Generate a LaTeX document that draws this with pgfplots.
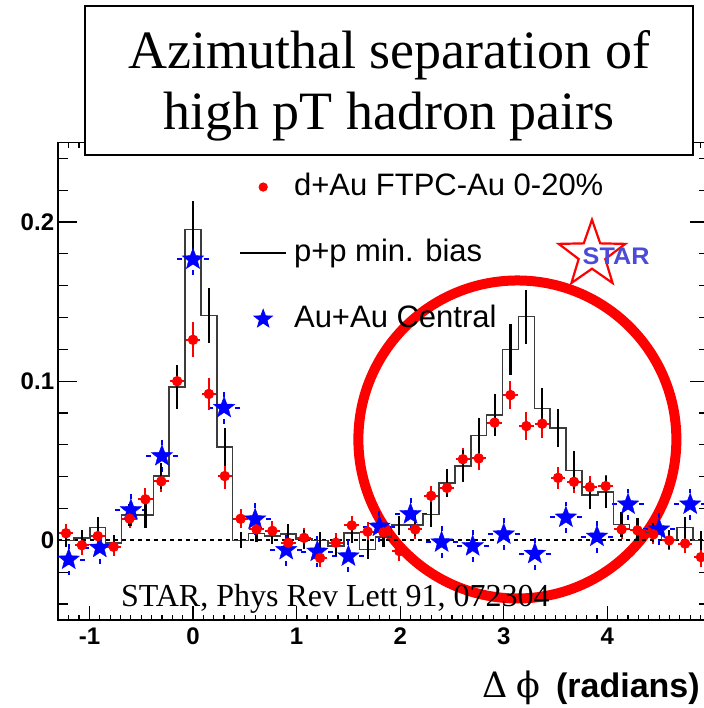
\documentclass[border=0pt]{standalone}
\usepackage{fontspec}
\setmainfont{Liberation Serif}
\newfontfamily\helv{Liberation Sans}
\newfontfamily\dvserif{DejaVu Serif}
\usepackage{pgfplots}
\pgfplotsset{compat=1.18}
\usepackage{pgfplotstable}
\usetikzlibrary{shapes.geometric}

\definecolor{starblue}{RGB}{75,75,215}
\definecolor{histgray}{RGB}{60,60,60}

% filled five-pointed star marker
\pgfdeclareplotmark{fstar}{%
  \pgfpathmoveto{\pgfpointpolar{90}{\pgfplotmarksize}}%
  \pgfpathlineto{\pgfpointpolar{126}{0.42\pgfplotmarksize}}%
  \pgfpathlineto{\pgfpointpolar{162}{\pgfplotmarksize}}%
  \pgfpathlineto{\pgfpointpolar{198}{0.42\pgfplotmarksize}}%
  \pgfpathlineto{\pgfpointpolar{234}{\pgfplotmarksize}}%
  \pgfpathlineto{\pgfpointpolar{270}{0.42\pgfplotmarksize}}%
  \pgfpathlineto{\pgfpointpolar{306}{\pgfplotmarksize}}%
  \pgfpathlineto{\pgfpointpolar{342}{0.42\pgfplotmarksize}}%
  \pgfpathlineto{\pgfpointpolar{18}{\pgfplotmarksize}}%
  \pgfpathlineto{\pgfpointpolar{54}{0.42\pgfplotmarksize}}%
  \pgfpathclose
  \pgfusepathqfillstroke
}

% d+Au FTPC-Au 0-20%: bin index k (bin width 2pi/41), yield, error
\pgfplotstableread{
k    y        ey
-8   0.0045   0.006
-7  -0.0030   0.006
-6   0.0027   0.006
-5  -0.0040   0.006
-4   0.0137   0.006
-3   0.0258   0.007
-2   0.0371   0.007
-1   0.1000   0.009
0    0.1260   0.011
1    0.0920   0.010
2    0.0404   0.008
3    0.0136   0.006
4    0.0069   0.006
5    0.0060   0.006
6   -0.0015   0.006
7    0.0016   0.006
8   -0.0110   0.006
9   -0.0015   0.006
10   0.0094   0.006
11   0.0055   0.006
12   0.0050   0.006
13  -0.0067   0.006
14   0.0069   0.006
15   0.0280   0.006
16   0.0330   0.006
17   0.0510   0.007
18   0.0515   0.007
19   0.0740   0.008
20   0.0913   0.009
21   0.0718   0.009
22   0.0733   0.009
23   0.0393   0.007
24   0.0368   0.007
25   0.0335   0.007
26   0.0341   0.007
27   0.0069   0.006
28   0.0063   0.006
29   0.0038   0.006
30   0.0000   0.006
31  -0.0020   0.006
32  -0.0105   0.006
}\dAu

% p+p minimum bias
\pgfplotstableread{
k    y        ey
-8   0.0000   0.004
-7   0.0016   0.005
-6   0.0080   0.007
-5  -0.0015   0.005
-4   0.0160   0.007
-3   0.0160   0.008
-2   0.0404   0.008
-1   0.0963   0.014
0    0.1953   0.018
1    0.1413   0.017
2    0.0586   0.012
3    0.0000   0.005
4    0.0042   0.005
5    0.0027   0.005
6    0.0040   0.006
7    0.0008   0.006
8    0.0000   0.005
9   -0.0036   0.006
10   0.0045   0.006
11  -0.0057   0.006
12   0.0020   0.006
13   0.0096   0.006
14   0.0096   0.007
15   0.0163   0.008
16   0.0360   0.009
17   0.0467   0.010
18   0.0660   0.011
19   0.0787   0.013
20   0.1200   0.016
21   0.1405   0.017
22   0.0830   0.013
23   0.0707   0.012
24   0.0440   0.012
25   0.0285   0.009
26   0.0303   0.010
27   0.0100   0.008
28   0.0069   0.007
29   0.0050   0.006
30   0.0006   0.006
31   0.0080   0.007
32   0.0000   0.006
}\pp

% Au+Au central, points every 0.3 rad
\pgfplotstableread{
k    y        ey
-4  -0.0120   0.010
-3  -0.0046   0.010
-2   0.0190   0.010
-1   0.0530   0.010
0    0.1765   0.010
1    0.0833   0.010
2    0.0132   0.010
3   -0.0060   0.010
4   -0.0070   0.010
5   -0.0100   0.010
6    0.0087   0.010
7    0.0165   0.010
8   -0.0012   0.010
9   -0.0036   0.010
10   0.0038   0.010
11  -0.0084   0.010
12   0.0144   0.010
13   0.0024   0.010
14   0.0226   0.010
15   0.0069   0.010
16   0.0226   0.010
}\AuAu

\begin{document}
\begin{tikzpicture}
\begin{axis}[
  scale only axis,
  width=325.4pt, height=238.8pt,
  xmin=-1.30261, xmax=4.98056,
  ymin=-0.05, ymax=0.25,
  axis line style={line width=0.6pt},
  tick align=inside,
  xtick={-1,0,1,2,3,4}, xticklabels={-1,0,1,2,3,4},
  ytick={0,0.1,0.2}, yticklabels={0,0.1,0.2},
  minor xtick={-1.3,-1.2,...,4.95},
  minor ytick={-0.04,-0.02,...,0.245},
  major tick length=8.5pt, minor tick length=3.5pt,
  xtick style={/pgfplots/major tick length=7pt, /pgfplots/minor tick length=2.6pt},
  ytick style={/pgfplots/major tick length=9.5pt, /pgfplots/minor tick length=5pt},
  tick style={line width=0.6pt, black},
  xticklabel style={font=\fontsize{12}{14}\selectfont\helv\bfseries, yshift=-0.5pt},
  yticklabel style={font=\fontsize{12}{14}\selectfont\helv\bfseries, inner sep=1pt, xshift=-0.8pt},
  legend style={at={(0.2784,0.940)}, anchor=north west, draw=none, fill=none,
    inner sep=0pt, outer sep=0pt, row sep=17pt,
    font=\fontsize{15.5}{18}\selectfont\helv,
    nodes={inner sep=0pt, text height=12pt, text depth=4pt},
    /tikz/every odd column/.append style={column sep=3.5pt}},
  legend cell align=left,
]
% highlight ring around the away-side region
\draw[red, line width=5pt] (axis cs:3.1316,0.0634) circle[radius=79.5pt];
% zero line
\draw[black, line width=1pt, dash pattern=on 2.2pt off 1.8pt]
  (axis cs:-1.30261,0) -- (axis cs:4.98056,0);

% Au+Au central
\addplot[forget plot, only marks, mark=fstar, mark size=5.6pt,
  mark options={fill=blue, draw=blue, line width=0.2pt},
  error bars/.cd, y dir=both, y explicit, x dir=both, x explicit,
  error mark=none,
  error bar style={blue, line width=1pt, dash pattern=on 5pt off 3pt, dash phase=2.5pt}]
  table[x expr=\thisrow{k}*0.3, y=y, y error=ey, x error expr=0.1545] {\AuAu};

% p+p histogram outline
\addplot[forget plot, const plot mark mid, histgray, line width=0.75pt, mark=none]
  table[x expr=\thisrow{k}*0.153248, y=y] {\pp};

% d+Au
\addplot[forget plot, only marks, mark=*, mark size=2.4pt,
  mark options={fill=red, draw=red},
  error bars/.cd, y dir=both, y explicit, x dir=both, x explicit,
  error mark=none, error bar style={red, line width=1pt}]
  table[x expr=\thisrow{k}*0.153248, y=y, y error=ey, x error expr=0.07] {\dAu};

% p+p statistical errors
\addplot[forget plot, draw=none, mark=none,
  error bars/.cd, y dir=both, y explicit,
  error mark=none, error bar style={black, line width=1.1pt}]
  table[x expr=\thisrow{k}*0.153248, y=y, y error=ey] {\pp};

\addlegendimage{legend image code/.code={%
  \path[draw=none, fill=none] (0pt,0pt) -- (22.9pt,0pt);
  \fill[red] (11.45pt,0pt) circle[radius=2.1pt];}}
\addlegendentry{d+Au FTPC-Au 0-20\%}
\addlegendimage{legend image code/.code={%
  \draw[black, line width=1pt] (0pt,0pt) -- (22.9pt,0pt);}}
\addlegendentry{p+p min. bias}
\addlegendimage{legend image code/.code={%
  \path[draw=none, fill=none] (0pt,0pt) -- (22.9pt,0pt);
  \fill[blue] (11.45pt,0pt) +(90:4.8pt) -- +(126:2pt) -- +(162:4.8pt) -- +(198:2pt)
    -- +(234:4.8pt) -- +(270:2pt) -- +(306:4.8pt) -- +(342:2pt) -- +(18:4.8pt)
    -- +(54:2pt) -- cycle;}}
\addlegendentry{Au+Au Central}
\end{axis}

% title box
\draw[line width=1pt, fill=white] (13.45pt,232.5pt) rectangle (317.45pt,307pt);
\node[anchor=base, inner sep=0pt, font=\fontsize{27}{27}\selectfont]
  at (165.45pt,275.85pt) {Azimuthal separation of};
\node[anchor=base, inner sep=0pt, font=\fontsize{27}{27}\selectfont]
  at (165.45pt,245pt) {high pT hadron pairs};

% STAR logo
\node[star, star points=5, star point ratio=2.5, draw=red, line width=1.1pt,
  minimum size=35pt, inner sep=0pt] at (266.95pt,182.65pt) {};
\node[inner sep=0pt, text=starblue, font=\fontsize{12}{12}\selectfont\helv\bfseries,
  xscale=1.05] at (279pt,182pt) {STAR};

% reference
\node[anchor=base west, inner sep=0pt, font=\fontsize{16}{16}\selectfont]
  at (31.3pt,6.65pt) {STAR, Phys Rev Lett 91, 072304};

% axis title
\node[anchor=base east, inner sep=0pt] at (321pt,-38.5pt)
  {{\fontsize{17.5}{17.5}\selectfont\dvserif Δ\hspace{4pt}ϕ}\hspace{8pt}{\fontsize{17}{17}\selectfont\helv\bfseries (radians)}};

\pgfresetboundingbox
\useasboundingbox (-29.05pt,-44pt) rectangle (322.95pt,310pt);
\end{tikzpicture}
\end{document}
